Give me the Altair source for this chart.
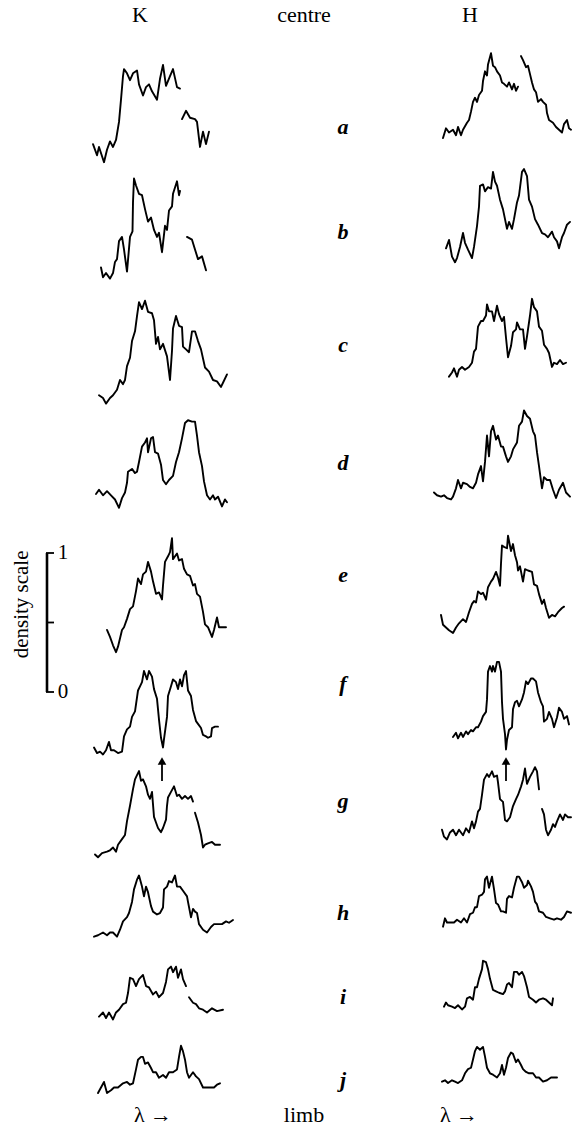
import altair as alt
import pandas as pd

W, H = 572, 1127
S = 139.0  # pixels for one unit of density

# ---------------- data: lambda offsets and densities of each tracing (None = break) ----
K_a_lam = [0, 4, 6, 11, 14, 17, 20, 23, 26, 28, 30, 31, 34, 37, 40, 44, 46, 50, 53, 56, 59, 64, 67, 70, 73, 77, 80, 84, 87,
           None, 89, 93, 97, 102, 104, 107, 110, 113, 116]
K_a_den = [0.15, 0.07, 0.13, 0.02, 0.11, 0.17, 0.13, 0.18, 0.31, 0.47, 0.64, 0.69, 0.66, 0.61, 0.66, 0.68, 0.58, 0.50, 0.56, 0.58,
           0.53, 0.47, 0.62, 0.72, 0.57, 0.64, 0.69, 0.56, 0.55,
           None, 0.33, 0.39, 0.34, 0.33, 0.31, 0.13, 0.24, 0.15, 0.24]

K_b_lam = [0, 2, 5, 9, 12, 14, 16, 18, 21, 23, 26, 29, 31.5, 32, 33, 35, 38, 41, 44, 47, 50, 53, 56, 58, 61, 64, 66, 68, 71, 72,
           76, 78, 79, None, 86, 91, 94, 97, 101, 105]
K_b_den = [0.09, 0.02, 0.05, 0.01, 0.05, 0.13, 0.15, 0.28, 0.31, 0.22, 0.06, 0.31, 0.35, 0.56, 0.73, 0.68, 0.62, 0.61, 0.51, 0.42,
           0.45, 0.36, 0.31, 0.34, 0.20, 0.39, 0.36, 0.50, 0.53, 0.62, 0.71, 0.61, 0.64,
           None, 0.31, 0.29, 0.22, 0.15, 0.17, 0.07]

K_c_lam = [0, 4, 7, 11, 14, 18, 21, 24, 26, 28, 31, 33, 36, 38, 40, 43, 46, 49, 53, 55, 57, 59, 61, 64, 68, 71, 73, 74, 77, 80,
           83, 84, 87, 90, 93, 96, 99, 102, 106, 110, 114, 118, 122, 124, 128]
K_c_den = [0.07, 0.05, 0.01, 0.05, 0.07, 0.11, 0.18, 0.15, 0.18, 0.28, 0.34, 0.46, 0.53, 0.64, 0.74, 0.69, 0.75, 0.67, 0.66, 0.61,
           0.44, 0.49, 0.40, 0.44, 0.35, 0.18, 0.39, 0.55, 0.64, 0.57, 0.56, 0.42, 0.40, 0.38, 0.53, 0.53, 0.46, 0.40, 0.27, 0.24,
           0.18, 0.17, 0.13, 0.16, 0.22]

K_d_lam = [0, 3, 7, 11, 15, 19, 23, 26, 29, 31, 32, 36, 39, 41, 43, 46, 49, 51, 52, 55, 57, 59, 62, 65, 67, 70, 73, 77, 80, 83,
           86, 89, 92, 96, 99, 101, 103, 106, 108, 111, 114, 117, 119, 122, 126, 129, 131]
K_d_den = [0.13, 0.16, 0.12, 0.15, 0.12, 0.09, 0.03, 0.10, 0.14, 0.21, 0.29, 0.31, 0.28, 0.29, 0.36, 0.47, 0.50, 0.53, 0.43, 0.53,
           0.54, 0.43, 0.42, 0.34, 0.23, 0.20, 0.23, 0.26, 0.36, 0.43, 0.53, 0.64, 0.66, 0.65, 0.65, 0.55, 0.43, 0.33, 0.22, 0.12,
           0.09, 0.12, 0.09, 0.11, 0.04, 0.09, 0.07]

K_e_lam = [0, 3, 6, 9, 11, 15, 17, 20, 23, 26, 29, 31, 34, 36, 39, 41, 44, 46, 49, 52, 55, 56, 58, 61, 63, 65, 66, 70, 72, 75,
           77, 80, 83, 86, 88, 90, 93, 96, 98, 101, 105, 107, 110, 112, 116, 119]
K_e_den = [0.18, 0.13, 0.07, 0.02, 0.06, 0.18, 0.20, 0.26, 0.33, 0.35, 0.46, 0.55, 0.51, 0.58, 0.60, 0.67, 0.60, 0.53, 0.44, 0.45,
           0.40, 0.50, 0.67, 0.71, 0.74, 0.84, 0.69, 0.73, 0.68, 0.69, 0.62, 0.58, 0.57, 0.50, 0.51, 0.44, 0.42, 0.31, 0.22, 0.20,
           0.13, 0.18, 0.27, 0.20, 0.20, 0.20]

K_f_lam = [0, 3, 6, 9, 12, 15, 17, 20, 24, 28, 30, 33, 36, 38, 41, 44, 46, 48, 50, 53, 55, 58, 60, 63, 65, 67, 69, 70, 73, 74,
           77, 79, 82, 84, 86, 88, 90, 92, 94, 97, 99, 102, 104, 107, 109, 112, 114, 117, 118, 121, 124]
K_f_den = [0.09, 0.05, 0.06, 0.04, 0.07, 0.13, 0.07, 0.07, 0.05, 0.06, 0.17, 0.22, 0.24, 0.31, 0.35, 0.50, 0.53, 0.56, 0.64, 0.58,
           0.64, 0.60, 0.51, 0.44, 0.29, 0.16, 0.09, 0.15, 0.31, 0.46, 0.53, 0.58, 0.56, 0.51, 0.58, 0.53, 0.61, 0.64, 0.50, 0.46,
           0.36, 0.28, 0.26, 0.23, 0.18, 0.17, 0.16, 0.17, 0.23, 0.24, 0.24]

K_g_lam = [0, 3, 7, 12, 15, 18, 21, 23, 27, 30, 32, 35, 38, 40, 42, 44, 46, 48, 51, 53, 55, 57, 59, 61, 63, 66, 68, 71, 72, 73,
           76, 79, 82, 84, 87, 90, 93, 96, 98, None, 100, 103, 106, 108, 110, 113, 117, 120, 125]
K_g_den = [0.04, 0.02, 0.05, 0.06, 0.07, 0.09, 0.06, 0.11, 0.15, 0.18, 0.28, 0.39, 0.51, 0.58, 0.61, 0.64, 0.57, 0.58, 0.53, 0.47,
           0.44, 0.49, 0.31, 0.27, 0.23, 0.20, 0.23, 0.29, 0.39, 0.45, 0.49, 0.53, 0.46, 0.47, 0.44, 0.46, 0.44, 0.46, 0.42,
           None, 0.34, 0.27, 0.18, 0.09, 0.11, 0.12, 0.13, 0.11, 0.11]

K_h_lam = [0, 4, 9, 13, 16, 19, 23, 26, 29, 33, 35, 38, 40, 43, 45, 48, 50, 52, 54, 57, 59, 63, 66, 69, 70, 73, 75, 78, 81, 83,
           86, 89, 93, 94, 97, 99, 101, 103, 105, 109, 113, 117, 120, 123, 128, 132, 135, 139]
K_h_den = [0.06, 0.07, 0.09, 0.07, 0.09, 0.09, 0.06, 0.11, 0.17, 0.20, 0.23, 0.31, 0.40, 0.47, 0.50, 0.42, 0.35, 0.42, 0.38, 0.28,
           0.24, 0.22, 0.23, 0.27, 0.40, 0.42, 0.46, 0.45, 0.50, 0.42, 0.42, 0.39, 0.35, 0.31, 0.20, 0.26, 0.24, 0.23, 0.15, 0.11,
           0.09, 0.13, 0.15, 0.15, 0.15, 0.17, 0.16, 0.18]

K_i_lam = [0, 4, 7, 10, 14, 17, 20, 24, 27, 29, 31, 34, 37, 40, 44, 47, 50, 54, 57, 60, 64, 67, 69, 72, 74, 77, 79, 82, 84, 87,
           None, 90, 94, 97, 100, 104, 108, 113, 118, 124]
K_i_den = [0.06, 0.09, 0.05, 0.09, 0.04, 0.09, 0.11, 0.15, 0.16, 0.23, 0.34, 0.33, 0.28, 0.33, 0.36, 0.28, 0.27, 0.22, 0.24, 0.20,
           0.23, 0.31, 0.40, 0.42, 0.38, 0.42, 0.34, 0.40, 0.33, 0.28,
           None, 0.20, 0.16, 0.15, 0.12, 0.11, 0.09, 0.12, 0.10, 0.11]

K_j_lam = [0, 3, 6, 9, 13, 16, 20, 25, 29, 32, 35, 38, 40, 43, 45, 47, 50, 53, 55, 58, 61, 65, 68, 71, 75, 79, 81, 83, 85, 87,
           89, 91, 95, 98, 101, 105, 109, 113, 116, 119, 122]
K_j_den = [0.05, 0.09, 0.13, 0.05, 0.07, 0.09, 0.09, 0.12, 0.13, 0.11, 0.12, 0.22, 0.29, 0.31, 0.31, 0.26, 0.27, 0.23, 0.20, 0.20,
           0.16, 0.18, 0.16, 0.20, 0.20, 0.22, 0.31, 0.39, 0.35, 0.29, 0.20, 0.16, 0.20, 0.17, 0.15, 0.09, 0.09, 0.09, 0.09, 0.11,
           0.12]

H_a_lam = [0, 3, 6, 10, 13, 15, 18, 20, 24, 26, 28, 30, 32, 34, 36, 39, 40, 42, 44, 45, 48, 50, 52, 54, 57, 59, 61, 64, 66, 69,
           71, 73, 75, None, 78, 80, 83, 85, 87, 89, 91, 93, 95, 98, 100, 103, 104, 106, 110, 113, 116, 119, 121, 124, 126, 128]
H_a_den = [0.05, 0.12, 0.09, 0.11, 0.07, 0.13, 0.07, 0.11, 0.16, 0.18, 0.24, 0.31, 0.34, 0.31, 0.36, 0.39, 0.46, 0.53, 0.50, 0.58,
           0.66, 0.57, 0.56, 0.53, 0.50, 0.45, 0.44, 0.42, 0.45, 0.40, 0.44, 0.39, 0.42,
           None, 0.64, 0.61, 0.56, 0.57, 0.51, 0.45, 0.40, 0.38, 0.31, 0.33, 0.31, 0.29, 0.23, 0.18, 0.16, 0.13, 0.11, 0.09, 0.15,
           0.18, 0.12, 0.11]

H_b_lam = [0, 3, 6, 9, 11, 14, 17, 19, 22, 26, 28, 31, 33, 34, 37, 39, 42, 45, 47, 49, 51, 54, 57, 59, 61, 63, 66, 68, 71, 73,
           76, 78, 81, 83, 86, 89, 92, 96, 99, 102, 106, 108, 111, 113, 116, 118, 121, 124]
H_b_den = [0.12, 0.18, 0.06, 0.02, 0.05, 0.13, 0.23, 0.16, 0.11, 0.05, 0.13, 0.28, 0.42, 0.57, 0.58, 0.53, 0.56, 0.55, 0.67, 0.60,
           0.57, 0.47, 0.40, 0.33, 0.26, 0.31, 0.26, 0.33, 0.45, 0.50, 0.67, 0.69, 0.64, 0.47, 0.42, 0.33, 0.29, 0.23, 0.22, 0.20,
           0.24, 0.20, 0.17, 0.12, 0.20, 0.23, 0.29, 0.31]

H_c_lam = [0, 3, 5, 8, 10, 13, 16, 20, 23, 25, 27, 29, 32, 34, 37, 38, 40, 43, 45, 48, 50, 53, 55, 57, 59, 62, 64, 67, 68, 71,
           74, 76, 78, 81, 83, 85, 88, 90, 93, 95, 98, 100, 103, 105, 108, 111, 114, 117]
H_c_den = [0.06, 0.09, 0.12, 0.06, 0.11, 0.13, 0.11, 0.13, 0.16, 0.24, 0.26, 0.42, 0.46, 0.46, 0.50, 0.58, 0.53, 0.53, 0.46, 0.57,
           0.51, 0.46, 0.49, 0.34, 0.20, 0.28, 0.38, 0.40, 0.45, 0.40, 0.40, 0.26, 0.35, 0.50, 0.62, 0.56, 0.53, 0.42, 0.39, 0.29,
           0.26, 0.23, 0.13, 0.16, 0.15, 0.18, 0.15, 0.16]

H_d_lam = [0, 3, 7, 10, 13, 17, 19, 22, 24, 27, 29, 33, 36, 39, 42, 44, 47, 49, 51, 53, 55, 57, 59, 62, 64, 67, 69, 72, 74, 77,
           79, 83, 85, 88, 90, 93, 96, 99, 101, 103, 105, 108, 110, 113, 116, 119, 122, 125, 129, 132, 136]
H_d_den = [0.09, 0.07, 0.06, 0.07, 0.05, 0.04, 0.06, 0.12, 0.18, 0.12, 0.16, 0.15, 0.13, 0.12, 0.16, 0.22, 0.28, 0.17, 0.31, 0.50,
           0.35, 0.53, 0.57, 0.47, 0.50, 0.42, 0.42, 0.35, 0.31, 0.35, 0.40, 0.45, 0.57, 0.60, 0.68, 0.64, 0.62, 0.53, 0.50, 0.38,
           0.28, 0.12, 0.20, 0.18, 0.18, 0.11, 0.05, 0.11, 0.16, 0.09, 0.06]

H_e_lam = [0, 2, 5, 8, 12, 15, 18, 22, 25, 28, 31, 33, 35, 37, 40, 42, 45, 47, 50, 52, 55, 57, 59, 60, 61, 63, 66, 67, 70, 72,
           74, 76, 77, 79, 82, 84, 87, 91, 93, 96, 98, 101, 103, 105, 108, 111, 114, 117, 121, 123]
H_e_den = [0.18, 0.11, 0.09, 0.07, 0.05, 0.09, 0.12, 0.15, 0.13, 0.20, 0.26, 0.28, 0.27, 0.35, 0.33, 0.34, 0.29, 0.38, 0.42, 0.44,
           0.49, 0.45, 0.39, 0.55, 0.68, 0.67, 0.66, 0.75, 0.64, 0.69, 0.61, 0.56, 0.50, 0.53, 0.42, 0.51, 0.50, 0.49, 0.40, 0.39,
           0.33, 0.26, 0.29, 0.23, 0.16, 0.18, 0.17, 0.20, 0.23, 0.24]

H_f_lam = [0, 3, 5, 8, 10, 13, 15, 18, 20, 23, 25, 28, 30, 33, 34, 35, 37, 39, 40, 42, 44, 46, 48, 49, 50, 52, 53, 54, 56, 59,
           60, 62, 64, 66, 69, 71, 73, 75, 78, 80, 83, 85, 88, 90, 91, 94, 96, 99, 101, 104, 106, 109, 111, 114, 116]
H_f_den = [0.13, 0.16, 0.12, 0.16, 0.13, 0.17, 0.15, 0.18, 0.17, 0.20, 0.20, 0.24, 0.28, 0.31, 0.40, 0.60, 0.64, 0.60, 0.64, 0.60,
           0.67, 0.67, 0.60, 0.38, 0.26, 0.15, 0.04, 0.11, 0.18, 0.20, 0.33, 0.38, 0.39, 0.35, 0.40, 0.45, 0.53, 0.51, 0.55, 0.55,
           0.53, 0.45, 0.38, 0.35, 0.24, 0.26, 0.31, 0.26, 0.20, 0.27, 0.34, 0.31, 0.26, 0.28, 0.22]

H_g_lam = [0, 2, 5, 8, 11, 14, 17, 21, 24, 27, 30, 32, 34, 36, 38, 40, 42, 45, 47, 50, 52, 55, 56, 58, 61, 63, 65, 68, 71, 74,
           76, 79, 81, 83, 85, 88, 91, 93, 95, 97, None, 100, 102, 104, 106, 109, 111, 113, 115, 118, 121, 123, 126, 129]
H_g_den = [0.11, 0.06, 0.04, 0.09, 0.11, 0.07, 0.11, 0.07, 0.12, 0.09, 0.17, 0.12, 0.17, 0.24, 0.26, 0.36, 0.47, 0.51, 0.49, 0.53,
           0.49, 0.50, 0.45, 0.33, 0.31, 0.18, 0.17, 0.20, 0.28, 0.33, 0.36, 0.42, 0.47, 0.55, 0.44, 0.49, 0.53, 0.56, 0.53, 0.40,
           None, 0.26, 0.22, 0.11, 0.07, 0.11, 0.15, 0.13, 0.17, 0.22, 0.18, 0.22, 0.20, 0.20]

H_h_lam = [0, 2, 4, 8, 11, 14, 18, 21, 24, 27, 30, 32, 34, 36, 39, 41, 42, 44, 46, 49, 51, 53, 55, 58, 60, 63, 64, 66, 69, 71,
           74, 76, 79, 81, 84, 85, 88, 90, 92, 94, 96, 100, 103, 107, 111, 114, 118, 121, 124, 128]
H_h_den = [0.06, 0.12, 0.09, 0.09, 0.09, 0.11, 0.09, 0.12, 0.09, 0.15, 0.16, 0.20, 0.20, 0.28, 0.29, 0.31, 0.40, 0.42, 0.34, 0.42,
           0.33, 0.23, 0.22, 0.17, 0.17, 0.16, 0.26, 0.28, 0.27, 0.34, 0.42, 0.42, 0.38, 0.34, 0.36, 0.39, 0.35, 0.31, 0.24, 0.22,
           0.17, 0.16, 0.13, 0.12, 0.11, 0.12, 0.11, 0.13, 0.17, 0.16]

H_i_lam = [0, 2, 4, 8, 11, 14, 18, 21, 23, 26, 29, 31, 33, 35, 38, 39, 42, 44, 46, 49, 52, 55, 59, 61, 63, 65, 68, 70, 73, 75,
           78, 80, 83, 85, 89, 92, 95, 99, 102, 105, 108, 109]
H_i_den = [0.06, 0.09, 0.07, 0.06, 0.05, 0.07, 0.04, 0.06, 0.12, 0.13, 0.11, 0.20, 0.20, 0.26, 0.33, 0.39, 0.38, 0.33, 0.26, 0.18,
           0.17, 0.16, 0.15, 0.17, 0.22, 0.23, 0.20, 0.31, 0.31, 0.29, 0.31, 0.28, 0.20, 0.13, 0.11, 0.09, 0.11, 0.12, 0.11, 0.09,
           0.07, 0.12]

H_j_lam = [0, 3, 6, 10, 13, 16, 20, 23, 26, 29, 31, 33, 35, 38, 41, 43, 45, 48, 51, 55, 58, 60, 62, 64, 66, 69, 71, 74, 76, 79,
           81, 84, 87, 91, 94, 97, 101, 105, 109, 112, 115]
H_j_den = [0.06, 0.07, 0.05, 0.07, 0.06, 0.05, 0.07, 0.12, 0.15, 0.16, 0.22, 0.28, 0.31, 0.29, 0.31, 0.24, 0.16, 0.12, 0.11, 0.09,
           0.12, 0.18, 0.11, 0.16, 0.23, 0.27, 0.26, 0.20, 0.22, 0.18, 0.15, 0.13, 0.12, 0.12, 0.09, 0.09, 0.06, 0.07, 0.09, 0.09,
           0.09]

row_labels = ["a", "b", "c", "d", "e", "f", "g", "h", "i", "j"]
column_titles = ["K", "centre", "H"]
foot_titles = ["λ →", "limb", "λ →"]
scale_ticks = [0, 0.5, 1]
scale_tick_labels = ["0", "", "1"]

TRACES = {
    "K": [(K_a_lam, K_a_den), (K_b_lam, K_b_den), (K_c_lam, K_c_den), (K_d_lam, K_d_den), (K_e_lam, K_e_den),
          (K_f_lam, K_f_den), (K_g_lam, K_g_den), (K_h_lam, K_h_den), (K_i_lam, K_i_den), (K_j_lam, K_j_den)],
    "H": [(H_a_lam, H_a_den), (H_b_lam, H_b_den), (H_c_lam, H_c_den), (H_d_lam, H_d_den), (H_e_lam, H_e_den),
          (H_f_lam, H_f_den), (H_g_lam, H_g_den), (H_h_lam, H_h_den), (H_i_lam, H_i_den), (H_j_lam, H_j_den)],
}

# ---------------- layout (page position of each tracing: start, zero-density level) ------
LAYOUT = {
    "K": [(93, 165), (101, 280), (99, 405), (96, 512), (107, 655), (94, 760), (95, 860), (94, 945), (99, 1025), (98, 1100)],
    "H": [(443, 145), (446, 265), (449, 385), (434, 505), (441, 640), (453, 755), (442, 845), (443, 935), (444, 1015), (442, 1090)],
}
LABEL_X = 343
LABEL_Y = [127, 232, 345, 463, 575, 684, 801, 913, 997, 1080]
TITLE_X = [140, 304, 470]
TITLE_Y = 15
FOOT_X = [153, 304, 459]
FOOT_Y = 1115
BAR_X, BAR_BASE, TICK_LEN = 47, 692, 7
ARROWS = [(162, 761, 781), (506, 761, 781)]  # x, head level, tail level
SERIF = "Liberation Serif"


def fy(px):
    """page pixel row -> figure units (density units above the page bottom)"""
    return (H - px) / S


recs = []
for col in ("K", "H"):
    for k, (lam, den) in enumerate(TRACES[col]):
        x0, base = LAYOUT[col][k]
        seg = 0
        for i, (l, d) in enumerate(zip(lam, den)):
            if d is None:
                seg += 1
                continue
            recs.append({"seg": f"{col}{row_labels[k]}{seg}", "i": i, "x": x0 + l, "y": fy(base) + d})
traces = pd.DataFrame(recs)

xs = alt.Scale(domain=[0, W], nice=False, zero=False)
ys = alt.Scale(domain=[0, H / S], nice=False, zero=False)
X = lambda f="x": alt.X(f, type="quantitative", scale=xs, axis=None)
Y = lambda f="y": alt.Y(f, type="quantitative", scale=ys, axis=None)

lines = alt.Chart(traces).mark_line(color="black", strokeWidth=1.9, strokeJoin="round", strokeCap="round").encode(
    x=X(), y=Y(), detail="seg:N", order="i:Q")

labels = pd.DataFrame({"x": [LABEL_X] * 10, "y": [fy(v) for v in LABEL_Y], "t": row_labels})
lab = alt.Chart(labels).mark_text(font=SERIF, fontSize=22, fontStyle="italic", fontWeight="bold", color="black",
                                  baseline="middle", align="center").encode(x=X(), y=Y(), text="t:N")

heads = pd.DataFrame({"x": TITLE_X + FOOT_X, "y": [fy(TITLE_Y)] * 3 + [fy(FOOT_Y)] * 3,
                      "t": column_titles + foot_titles})
head = alt.Chart(heads).mark_text(font=SERIF, fontSize=22, color="black",
                                  baseline="middle", align="center").encode(x=X(), y=Y(), text="t:N")

# density scale bar
bar = pd.DataFrame({"x": [BAR_X], "y": [fy(BAR_BASE)], "y2": [fy(BAR_BASE) + 1]})
bar_rule = alt.Chart(bar).mark_rule(color="black", strokeWidth=2.6).encode(x=X(), y=Y(), y2="y2:Q")
ticks = pd.DataFrame({"x": [BAR_X - 1] * 3, "x2": [BAR_X + TICK_LEN] * 3,
                      "y": [fy(BAR_BASE) + v for v in scale_ticks], "t": scale_tick_labels,
                      "xt": [BAR_X + 16] * 3})
tick_rule = alt.Chart(ticks).mark_rule(color="black", strokeWidth=1.8).encode(x=X(), x2="x2:Q", y=Y())
tick_text = alt.Chart(ticks).mark_text(font=SERIF, fontSize=21, color="black",
                                       baseline="middle", align="center").encode(x=X("xt"), y=Y(), text="t:N")
scale_title = alt.Chart(pd.DataFrame({"x": [22], "y": [fy(BAR_BASE) + 0.63], "t": ["density scale"]})).mark_text(
    font=SERIF, fontSize=21, color="black", angle=270, baseline="middle", align="center").encode(
    x=X(), y=Y(), text="t:N")

# arrows marking the central reversal in f
arr = pd.DataFrame({"x": [a[0] for a in ARROWS], "y": [fy(a[1]) for a in ARROWS], "y2": [fy(a[2]) for a in ARROWS]})
arr_rule = alt.Chart(arr).mark_rule(color="black", strokeWidth=1.8).encode(x=X(), y=Y(), y2="y2:Q")
arr_head = alt.Chart(arr).mark_point(shape="triangle-up", filled=True, color="black", size=75, opacity=1).encode(
    x=X(), y=Y())

chart = alt.layer(lines, lab, head, bar_rule, tick_rule, tick_text, scale_title, arr_rule, arr_head).properties(
    width=W, height=H, autosize=alt.AutoSizeParams(type="none"), padding=0, background="white"
).configure_view(stroke=None)

chart.save("out.html", embed_options={"renderer": "svg", "actions": False})
